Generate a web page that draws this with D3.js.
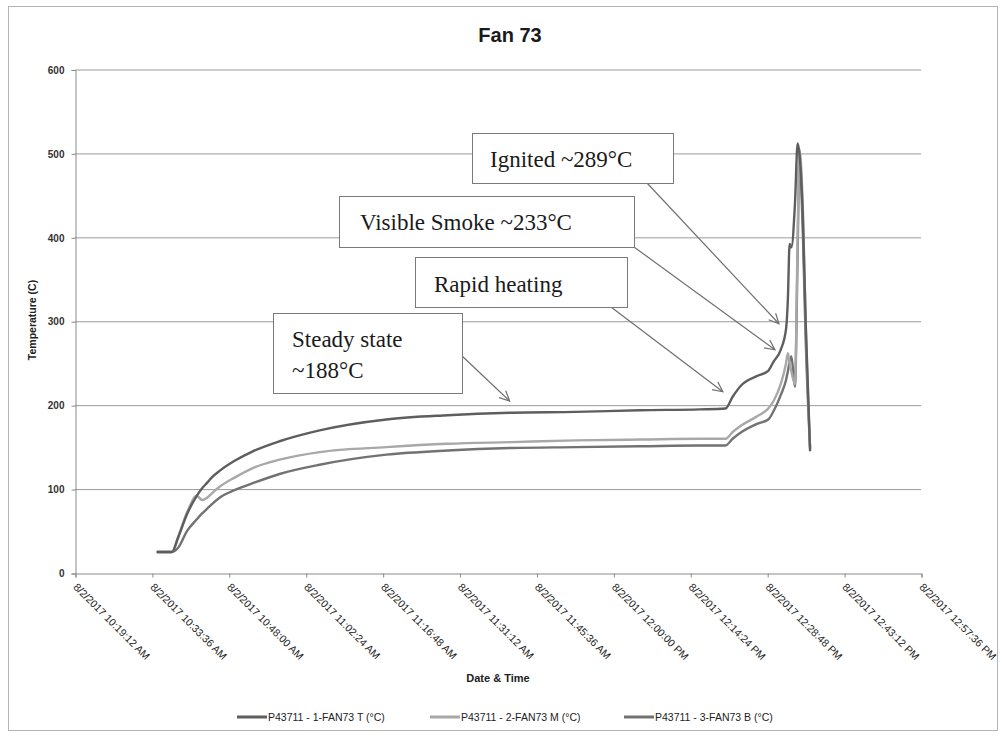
<!DOCTYPE html>
<html><head><meta charset="utf-8">
<script src="https://cdn.jsdelivr.net/npm/d3@7"></script>
<style>html,body{margin:0;padding:0;background:#fff;}svg{display:block;}</style>
</head><body>
<script>
// ---------- data ----------
const chartTitle = "Fan 73";
const seriesNames = ["P43711 - 1-FAN73 T (°C)", "P43711 - 2-FAN73 M (°C)", "P43711 - 3-FAN73 B (°C)"];
const xTickLabels = ["8/2/2017 10:19:12 AM","8/2/2017 10:33:36 AM","8/2/2017 10:48:00 AM","8/2/2017 11:02:24 AM",
  "8/2/2017 11:16:48 AM","8/2/2017 11:31:12 AM","8/2/2017 11:45:36 AM","8/2/2017 12:00:00 PM",
  "8/2/2017 12:14:24 PM","8/2/2017 12:28:48 PM","8/2/2017 12:43:12 PM","8/2/2017 12:57:36 PM"];
const yTicks = [0,100,200,300,400,500,600];
const times = ["10:34:30","10:37:20","10:38:30","10:40:10","10:42:00","10:43:00","10:44:00","10:44:50","10:46:20",
  "10:49:10","10:52:30","10:57:30","11:05:00","11:17:30","11:29:00","11:41:00","11:53:00","12:05:00","12:16:10",
  "12:21:00","12:22:20","12:24:00","12:27:00","12:29:00","12:30:00","12:31:20","12:32:20","12:32:40","12:33:00",
  "12:33:20","12:34:00","12:34:30","12:34:50","12:35:30","12:36:00","12:36:50"];
const tempT = [25,25,42,70,92,101,108,114,122,134,145,157,170,183,188,191,192,194,195,
  196,210,224,235,241,252,266,291,325,392,388,440,512,500,420,300,145];
const tempM = [25,25,43,72,92,87,90,95,103,114,125,135,144,150,154,156,158,159,160,
  160,168,176,187,196,205,225,250,262,250,240,225,400,505,430,300,150];
const tempB = [25,25,30,50,64,71,77,82,90,99,107,118,129,141,146,149,150,151,152,
  152,160,168,178,183,193,212,230,240,252,258,222,380,495,400,280,148];
const seriesColors = ["#5e5e5e", "#a8a8a8", "#727272"];
// annotations: text lines, arrow tip (time, value)
const annoText = [["Ignited ~289°C"],["Visible Smoke ~233°C"],["Rapid heating"],["Steady state","~188°C"]];
const annoTipTime = ["12:31:00","12:30:15","12:20:30","11:40:35"];
const annoTipValue = [297, 266, 216, 205];

// ---------- layout ----------
const W = 1003, H = 736;
const svg = d3.select("body").append("svg").attr("width", W).attr("height", H);
const parseTick = d3.timeParse("%m/%d/%Y %I:%M:%S %p");
const parseT = d3.timeParse("%Y-%m-%d %H:%M:%S");
const tickDates = xTickLabels.map(parseTick);
const dates = times.map(t => parseT("2017-08-02 " + t));

const x = d3.scaleTime().domain([tickDates[0], tickDates[tickDates.length-1]]).range([75, 921]);
const y = d3.scaleLinear().domain([0, 600]).range([573, 69.5]);

// outer border
svg.append("rect").attr("x", 8.5).attr("y", 6.5).attr("width", 989).attr("height", 724)
  .attr("fill", "none").attr("stroke", "#b5b5b5").attr("stroke-width", 1);

// title
svg.append("text").attr("x", 510).attr("y", 42).attr("text-anchor", "middle")
  .attr("font-family", "Liberation Sans, Arial, sans-serif").attr("font-weight", "bold")
  .attr("font-size", 20).attr("fill", "#1a1a1a").text(chartTitle);

// gridlines
svg.append("g").selectAll("line").data(yTicks.filter(d => d > 0)).join("line")
  .attr("x1", 75).attr("x2", 921).attr("y1", d => y(d) + 0.5).attr("y2", d => y(d) + 0.5)
  .attr("stroke", "#9a9a9a").attr("stroke-width", 1);

// y axis
const yAxis = svg.append("g").attr("transform", "translate(75.5,0.5)")
  .call(d3.axisLeft(y).tickValues(yTicks).tickSize(4).tickPadding(7).tickFormat(d3.format("d")));
yAxis.select(".domain").attr("stroke", "#8a8a8a");
yAxis.selectAll(".tick line").attr("stroke", "#8a8a8a");
yAxis.selectAll("text").attr("font-family", "Liberation Sans, Arial, sans-serif")
  .attr("font-size", 10).attr("font-weight", "bold").attr("fill", "#333");

// x axis
const xAxis = svg.append("g").attr("transform", "translate(0.5,573.5)")
  .call(d3.axisBottom(x).tickValues(tickDates).tickSize(4).tickFormat((d, i) => xTickLabels[i]));
xAxis.select(".domain").attr("stroke", "#8a8a8a");
xAxis.selectAll(".tick line").attr("stroke", "#8a8a8a");
xAxis.selectAll("text").attr("font-family", "Liberation Sans, Arial, sans-serif")
  .attr("font-size", 10.5).attr("fill", "#222")
  .attr("text-anchor", "start").attr("dy", "0.3em").attr("y", 0)
  .attr("transform", "translate(-1,12) rotate(45)");

// axis titles
svg.append("text").attr("transform", "translate(36,320) rotate(-90)").attr("text-anchor", "middle")
  .attr("font-family", "Liberation Sans, Arial, sans-serif").attr("font-weight", "bold")
  .attr("font-size", 10.5).attr("fill", "#222").text("Temperature (C)");
svg.append("text").attr("x", 498).attr("y", 682).attr("text-anchor", "middle")
  .attr("font-family", "Liberation Sans, Arial, sans-serif").attr("font-weight", "bold")
  .attr("font-size", 11).attr("fill", "#222").text("Date & Time");

// series
const allSeries = [tempT, tempM, tempB];
const line = d3.line().x((d, i) => x(dates[i])).y(d => y(d)).curve(d3.curveMonotoneX);
svg.append("g").selectAll("path").data([2, 1, 0]).join("path")
  .attr("d", k => line(allSeries[k])).attr("fill", "none")
  .attr("stroke", k => seriesColors[k]).attr("stroke-width", 2.4)
  .attr("stroke-linejoin", "round");

// legend
const legX = [237, 430, 624];
const leg = svg.append("g").selectAll("g").data(seriesNames).join("g")
  .attr("transform", (d, i) => `translate(${legX[i]},717)`);
leg.append("line").attr("x1", 0).attr("x2", 30).attr("y1", 0).attr("y2", 0)
  .attr("stroke", (d, i) => seriesColors[i]).attr("stroke-width", 3);
leg.append("text").attr("x", 31).attr("y", 0).attr("dy", "0.35em")
  .attr("font-family", "Liberation Sans, Arial, sans-serif").attr("font-size", 10.5)
  .attr("fill", "#222").text(d => d);

// annotations (callout boxes with arrows)
const boxes = [
  {x: 472, y: 133, w: 201, h: 50, tx: 490, ty: [167], sx: 647, sy: 183},
  {x: 339, y: 196, w: 295, h: 51, tx: 360, ty: [230], sx: 634, sy: 247},
  {x: 415, y: 257, w: 212, h: 50, tx: 434, ty: [292], sx: 611, sy: 307},
  {x: 273, y: 313, w: 189, h: 80, tx: 292, ty: [347, 378], sx: 461, sy: 355}
];
const ann = svg.append("g");
boxes.forEach((b, i) => {
  const tipX = x(parseT("2017-08-02 " + annoTipTime[i])), tipY = y(annoTipValue[i]);
  ann.append("line").attr("x1", b.sx).attr("y1", b.sy).attr("x2", tipX).attr("y2", tipY)
    .attr("stroke", "#6f6f6f").attr("stroke-width", 1.2);
  const ang = Math.atan2(tipY - b.sy, tipX - b.sx), L = 11, a = 0.45;
  ann.append("path")
    .attr("d", `M${tipX - L*Math.cos(ang - a)},${tipY - L*Math.sin(ang - a)}L${tipX},${tipY}L${tipX - L*Math.cos(ang + a)},${tipY - L*Math.sin(ang + a)}`)
    .attr("fill", "none").attr("stroke", "#6f6f6f").attr("stroke-width", 1.2);
  ann.append("rect").attr("x", b.x + 0.5).attr("y", b.y + 0.5).attr("width", b.w).attr("height", b.h)
    .attr("fill", "#fff").attr("stroke", "#7a7a7a").attr("stroke-width", 1);
  annoText[i].forEach((t, j) => {
    ann.append("text").attr("x", b.tx).attr("y", b.ty[j])
      .attr("font-family", "Liberation Serif, Times New Roman, serif").attr("font-size", 23)
      .attr("fill", "#1a1a1a").text(t);
  });
});
</script>
</body></html>
